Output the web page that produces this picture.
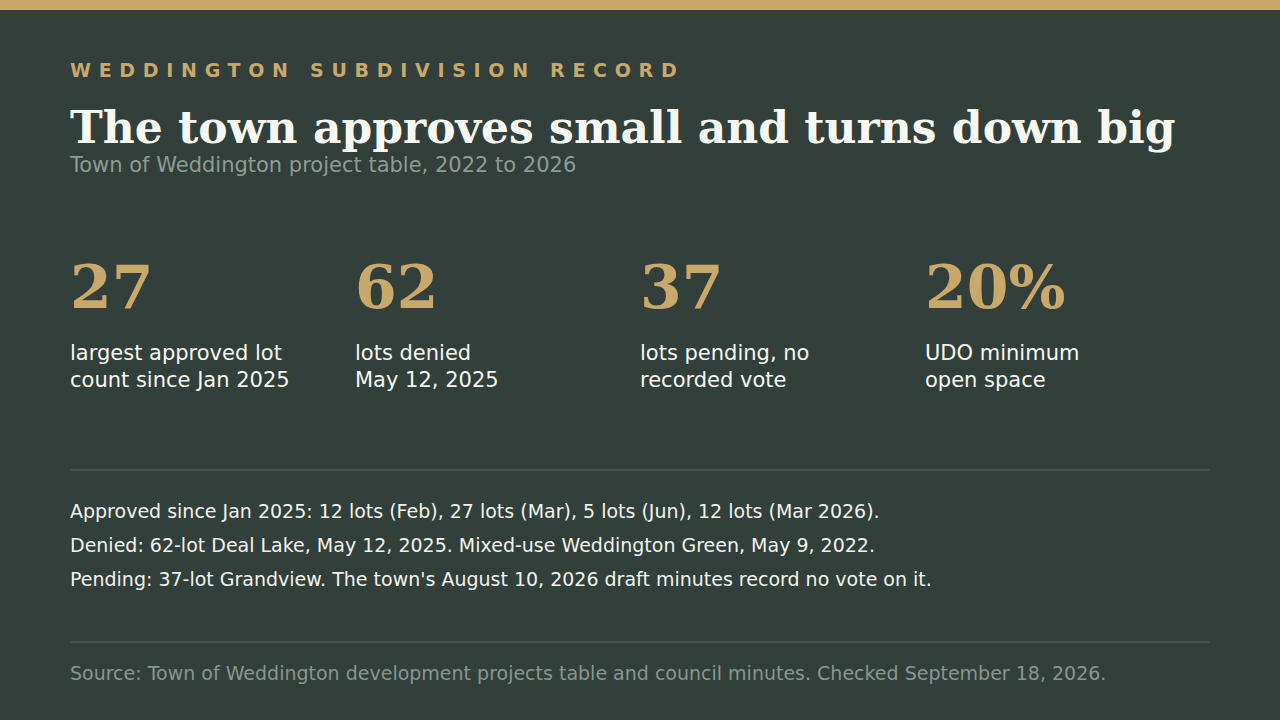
<!DOCTYPE html>
<html>
<head>
<meta charset="utf-8">
<script src="https://cdn.jsdelivr.net/npm/chart.js@4.4.1/dist/chart.umd.min.js"></script>
<style>
  html, body { margin: 0; padding: 0; }
  body { width: 1280px; height: 720px; background: #323f3a; position: relative; overflow: hidden; font-family: "DejaVu Sans", sans-serif; }
  #topbar { position: absolute; left: 0; top: 0; width: 1280px; height: 10px; background: #c9a86b; }
  .abs { position: absolute; left: 70px; white-space: nowrap; }
  #kicker { top: 61px; font-size: 19px; line-height: 19px; font-weight: bold; color: #c9a86b; letter-spacing: 7.7px; }
  #title { top: 106px; font-family: "DejaVu Serif", serif; font-weight: bold; font-size: 44px; line-height: 44px; color: #f7f7f2; }
  #subtitle { top: 155px; font-size: 21px; line-height: 21px; color: #8f9b95; }
  .stat { position: absolute; top: 257px; width: 285px; }
  .stat .num { font-family: "DejaVu Serif", serif; font-weight: bold; font-size: 60px; line-height: 60px; color: #c9a86b; }
  .stat .lbl { position: absolute; top: 83px; font-size: 21px; line-height: 27px; color: #f7f7f2; white-space: nowrap; }
  .rule { position: absolute; left: 70px; width: 1140px; height: 2px; background: #45524c; }
  #notes { top: 494px; font-size: 19px; line-height: 34px; color: #f2f2ee; }
  #source { top: 664px; font-size: 19px; line-height: 19px; color: #8a9690; }
</style>
</head>
<body>
<div id="topbar"></div>
<div id="kicker" class="abs"></div>
<div id="title" class="abs"></div>
<div id="subtitle" class="abs"></div>
<div id="stats"></div>
<div class="rule" style="top:469px"></div>
<div id="notes" class="abs"></div>
<div class="rule" style="top:641px"></div>
<div id="source" class="abs"></div>
<script>
const kicker = "WEDDINGTON SUBDIVISION RECORD";
const title = "The town approves small and turns down big";
const subtitle = "Town of Weddington project table, 2022 to 2026";
const statValues = ["27", "62", "37", "20%"];
const statLabels = [
  ["largest approved lot", "count since Jan 2025"],
  ["lots denied", "May 12, 2025"],
  ["lots pending, no", "recorded vote"],
  ["UDO minimum", "open space"]
];
const notes = [
  "Approved since Jan 2025: 12 lots (Feb), 27 lots (Mar), 5 lots (Jun), 12 lots (Mar 2026).",
  "Denied: 62-lot Deal Lake, May 12, 2025. Mixed-use Weddington Green, May 9, 2022.",
  "Pending: 37-lot Grandview. The town's August 10, 2026 draft minutes record no vote on it."
];
const source = "Source: Town of Weddington development projects table and council minutes. Checked September 18, 2026.";

document.getElementById('kicker').textContent = kicker;
document.getElementById('title').textContent = title;
document.getElementById('subtitle').textContent = subtitle;
document.getElementById('source').textContent = source;
const notesEl = document.getElementById('notes');
notes.forEach(n => { const d = document.createElement('div'); d.textContent = n; notesEl.appendChild(d); });
const statsEl = document.getElementById('stats');
statValues.forEach((v, i) => {
  const s = document.createElement('div');
  s.className = 'stat';
  s.style.left = (70 + i * 285) + 'px';
  const n = document.createElement('div'); n.className = 'num'; n.textContent = v; s.appendChild(n);
  const l = document.createElement('div'); l.className = 'lbl';
  statLabels[i].forEach(t => { const d = document.createElement('div'); d.textContent = t; l.appendChild(d); });
  s.appendChild(l);
  statsEl.appendChild(s);
});
</script>
</body>
</html>
